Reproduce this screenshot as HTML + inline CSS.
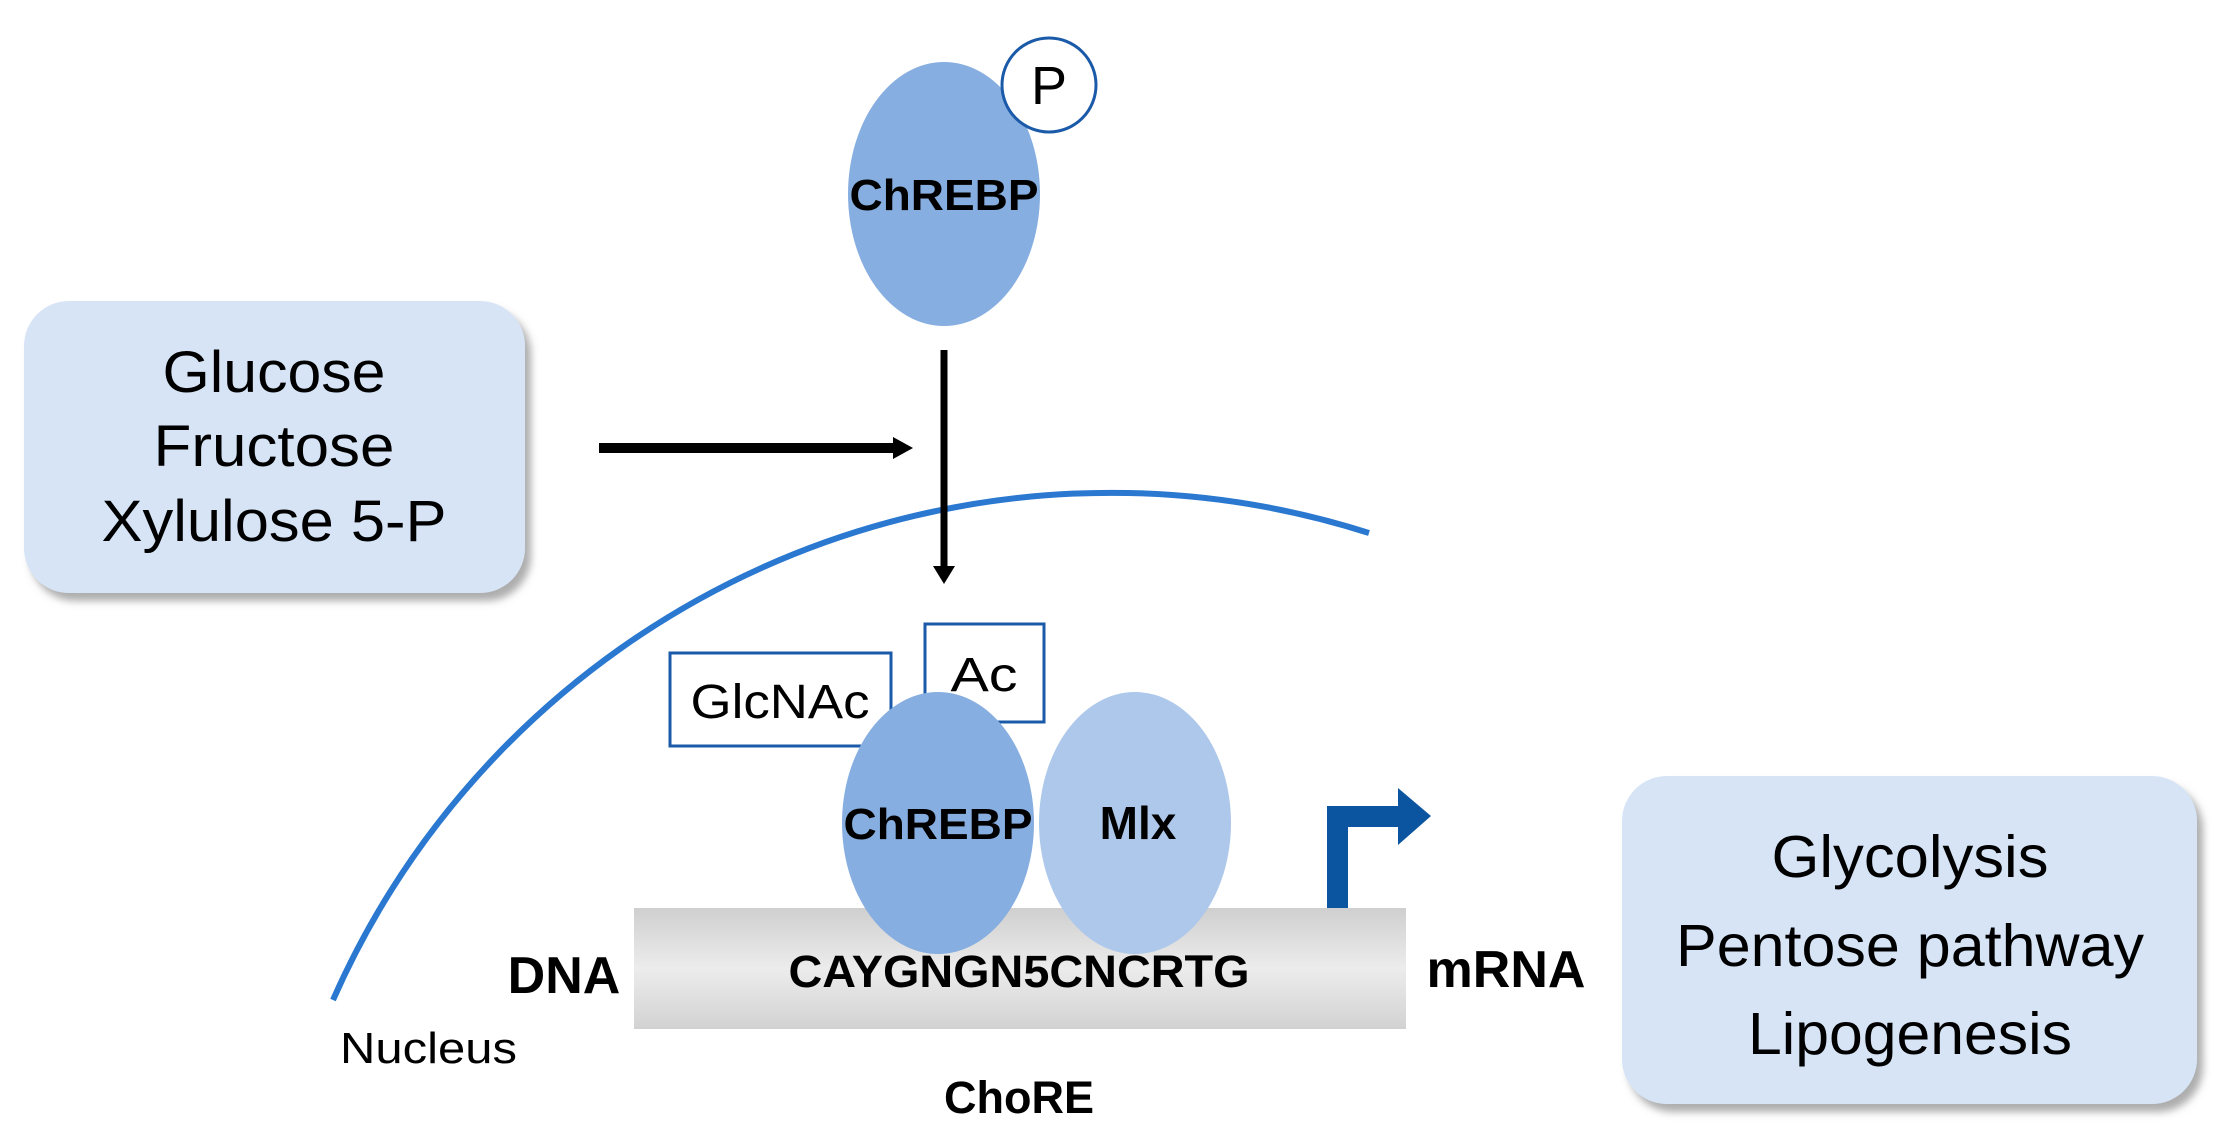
<!DOCTYPE html>
<html><head><meta charset="utf-8"><style>
html,body{margin:0;padding:0;background:#fff;}
svg{display:block;}
text{font-family:"Liberation Sans",Arial,sans-serif;}
</style></head><body>
<svg width="2225" height="1139" viewBox="0 0 2225 1139" xmlns="http://www.w3.org/2000/svg">
<defs>
<linearGradient id="dna" x1="0" y1="0" x2="0" y2="1">
<stop offset="0" stop-color="#cfcfcf"/><stop offset="0.5" stop-color="#ececec"/><stop offset="1" stop-color="#d2d2d2"/>
</linearGradient>
<filter id="sh" x="-10%" y="-10%" width="130%" height="130%"><feDropShadow dx="6" dy="8" stdDeviation="4" flood-color="#777" flood-opacity="0.6"/></filter>
</defs>
<rect x="24" y="301" width="501" height="292" rx="45" fill="#d6e4f6" filter="url(#sh)"/>
<text x="274" y="392" font-size="58" text-anchor="middle" textLength="223" lengthAdjust="spacingAndGlyphs">Glucose</text>
<text x="274" y="466" font-size="58" text-anchor="middle" textLength="241" lengthAdjust="spacingAndGlyphs">Fructose</text>
<text x="274" y="541" font-size="58" text-anchor="middle" textLength="345" lengthAdjust="spacingAndGlyphs">Xylulose 5-P</text>
<rect x="1622" y="776" width="575" height="328" rx="45" fill="#d6e4f6" filter="url(#sh)"/>
<text x="1910" y="877" font-size="59" text-anchor="middle" textLength="277" lengthAdjust="spacingAndGlyphs">Glycolysis</text>
<text x="1910" y="966" font-size="59" text-anchor="middle" textLength="468" lengthAdjust="spacingAndGlyphs">Pentose pathway</text>
<text x="1910" y="1054" font-size="59" text-anchor="middle" textLength="324" lengthAdjust="spacingAndGlyphs">Lipogenesis</text>
<path d="M333 1000 A 850 850 0 0 1 1369 533" fill="none" stroke="#2a78d0" stroke-width="6"/>
<text x="340" y="1063" font-size="44" textLength="177" lengthAdjust="spacingAndGlyphs">Nucleus</text>
<ellipse cx="944" cy="194" rx="96" ry="132" fill="#86aee0"/>
<circle cx="1049" cy="85" r="47" fill="#fff" stroke="#1a5aa8" stroke-width="3"/>
<text x="1049" y="104" font-size="54" text-anchor="middle">P</text>
<text x="944" y="210" font-size="44" font-weight="bold" text-anchor="middle" textLength="189" lengthAdjust="spacingAndGlyphs">ChREBP</text>
<line x1="599" y1="448" x2="895" y2="448" stroke="#000" stroke-width="10"/>
<polygon points="893,437 913,448 893,459" fill="#000"/>
<line x1="944" y1="350" x2="944" y2="568" stroke="#000" stroke-width="7"/>
<polygon points="933,566 955,566 944,584" fill="#000"/>
<rect x="670" y="653" width="221" height="93" fill="#fff" stroke="#1a5aa8" stroke-width="3"/>
<text x="780" y="718" font-size="48" text-anchor="middle" textLength="179" lengthAdjust="spacingAndGlyphs">GlcNAc</text>
<rect x="925" y="624" width="119" height="98" fill="#fff" stroke="#1a5aa8" stroke-width="3"/>
<text x="984" y="691" font-size="48" text-anchor="middle" textLength="67" lengthAdjust="spacingAndGlyphs">Ac</text>
<rect x="634" y="908" width="772" height="121" fill="url(#dna)"/>
<ellipse cx="938" cy="823" rx="96" ry="131" fill="#86aee0"/>
<ellipse cx="1135" cy="823" rx="96" ry="131" fill="#adc8ea"/>
<text x="938" y="839" font-size="44" font-weight="bold" text-anchor="middle" textLength="189" lengthAdjust="spacingAndGlyphs">ChREBP</text>
<text x="1138" y="839" font-size="46" font-weight="bold" text-anchor="middle">Mlx</text>
<text x="1019" y="987" font-size="45" font-weight="bold" text-anchor="middle" textLength="461" lengthAdjust="spacingAndGlyphs">CAYGNGN5CNCRTG</text>
<text x="564" y="993" font-size="52" font-weight="bold" text-anchor="middle">DNA</text>
<text x="1506" y="987" font-size="52" font-weight="bold" text-anchor="middle">mRNA</text>
<text x="1019" y="1113" font-size="45" font-weight="bold" text-anchor="middle">ChoRE</text>
<path d="M1327 908 V806 H1398 V788 L1431 816 L1398 845 V827 H1348 V908 Z" fill="#0b55a0"/>
</svg>
</body></html>
